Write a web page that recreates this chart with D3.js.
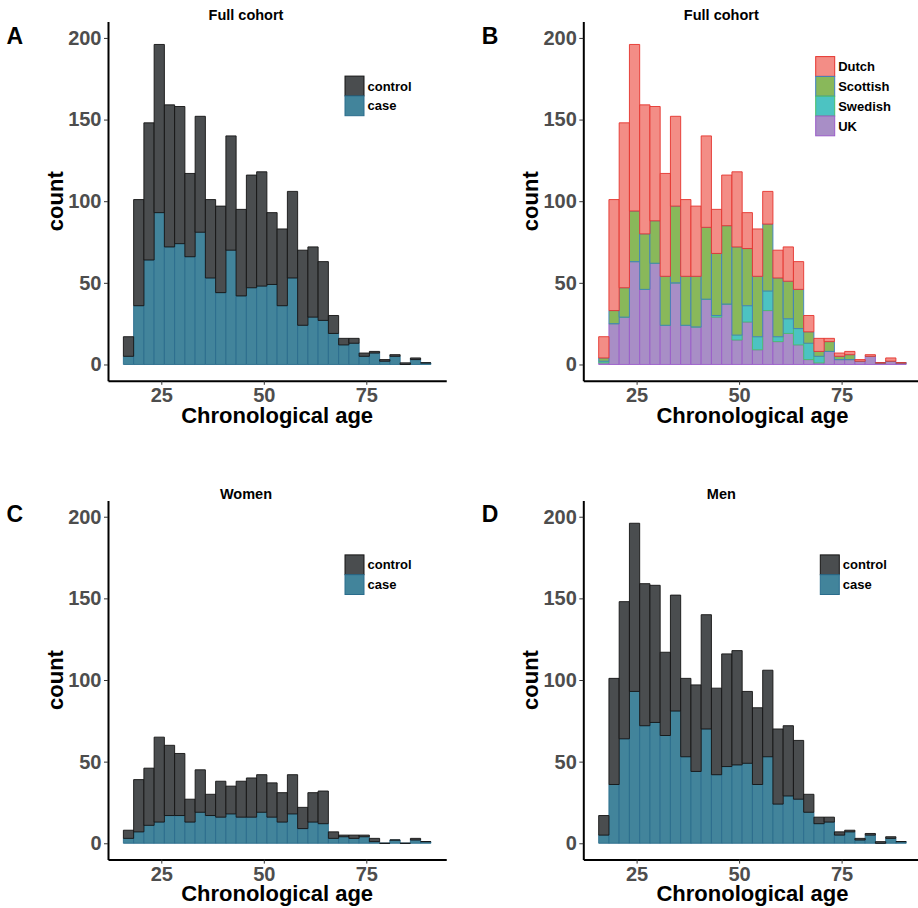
<!DOCTYPE html>
<html>
<head>
<meta charset="utf-8">
<script src="https://cdn.jsdelivr.net/npm/d3@7/dist/d3.min.js"></script>
<style>
  html, body { margin: 0; padding: 0; background: #fff; }
  svg text { font-family: "Liberation Sans", Arial, Helvetica, sans-serif; }
</style>
</head>
<body>
<svg id="chart" width="918" height="908"></svg>
<script>
// Histogram bins: lower edge of each 2.5-year age bin
const binStarts = [15.75, 18.25, 20.75, 23.25, 25.75, 28.25, 30.75, 33.25, 35.75, 38.25,
                   40.75, 43.25, 45.75, 48.25, 50.75, 53.25, 55.75, 58.25, 60.75, 63.25,
                   65.75, 68.25, 70.75, 73.25, 75.75, 78.25, 80.75, 83.25, 85.75, 88.25];
const binWidth = 2.5;

// Full cohort, by status
const fullCase    = [5, 36, 64, 93, 72, 74, 66, 81, 53, 44, 70, 42, 47, 48, 49, 36, 53, 24, 29, 27, 19, 12, 13, 5, 7, 2, 5, 0, 3, 1];
const fullControl = [12, 65, 84, 103, 87, 84, 51, 71, 48, 53, 70, 53, 69, 70, 44, 47, 53, 46, 43, 36, 11, 4, 3, 2, 1, 1, 1, 1, 1, 0];

// Full cohort, by study
const ukCounts       = [1, 25, 29, 63, 46, 62, 24, 50, 24, 23, 40, 29, 37, 15, 26, 9, 33, 14, 19, 12, 3, 1, 8, 3, 3, 2, 5, 1, 2, 1];
const swedishCounts  = [1, 0, 0, 0, 0, 0, 0, 0, 0, 0, 0, 1, 0, 3, 10, 8, 12, 3, 9, 10, 10, 4, 0, 0, 0, 0, 0, 0, 0, 0];
const scottishCounts = [2, 8, 18, 31, 34, 26, 30, 47, 30, 31, 44, 38, 48, 54, 35, 37, 41, 36, 23, 24, 7, 3, 6, 2, 3, 0, 0, 0, 0, 0];
const dutchCounts    = [13, 68, 101, 102, 79, 70, 63, 55, 47, 43, 56, 27, 31, 46, 22, 29, 20, 17, 21, 17, 10, 8, 2, 2, 2, 1, 1, 0, 2, 0];

// Women, by status
const womenCase    = [3, 7, 11, 13, 17, 17, 13, 19, 17, 16, 18, 16, 16, 19, 16, 13, 18, 9, 13, 12, 3, 4, 3, 4, 1, 0, 2, 0, 2, 1];
const womenControl = [5, 32, 35, 52, 43, 38, 14, 26, 13, 22, 17, 22, 24, 23, 21, 18, 24, 13, 18, 20, 4, 1, 2, 1, 2, 0, 0, 0, 1, 0];

// Men, by status
const menCase    = [5, 36, 64, 93, 72, 74, 66, 81, 53, 44, 70, 42, 47, 48, 49, 36, 53, 24, 29, 27, 19, 12, 13, 5, 7, 2, 5, 0, 3, 1];
const menControl = [12, 65, 84, 103, 87, 84, 51, 71, 48, 53, 70, 53, 69, 70, 44, 47, 53, 46, 43, 36, 11, 4, 3, 2, 1, 1, 1, 1, 1, 0];

const xTicks = [25, 50, 75];
const yTicks = [0, 50, 100, 150, 200];

const statusKeys = ["case", "control"];           // bottom to top
const statusLegend = ["control", "case"];
const statusFill = { control: "#4a4d4f", case: "#42849b" };
const statusStroke = { control: "#141414", case: "#2a6c8c" };

const studyKeys = ["UK", "Swedish", "Scottish", "Dutch"]; // bottom to top
const studyLegend = ["Dutch", "Scottish", "Swedish", "UK"];
const studyFill = { Dutch: "#f38d86", Scottish: "#89b85a", Swedish: "#4cc3c2", UK: "#a88ec6" };
const studyStroke = { Dutch: "#e5332d", Scottish: "#3f7fc0", Swedish: "#49bd6a", UK: "#9a5cc8" };

function statusRows(caseArr, controlArr) {
  return binStarts.map((b, i) => ({ x0: b, x1: b + binWidth, case: caseArr[i], control: controlArr[i] }));
}
function studyRows() {
  return binStarts.map((b, i) => ({
    x0: b, x1: b + binWidth,
    UK: ukCounts[i], Swedish: swedishCounts[i], Scottish: scottishCounts[i], Dutch: dutchCounts[i]
  }));
}

const panels = [
  { letter: "A", title: "Full cohort", dx: 0,     dy: 0,     rows: statusRows(fullCase, fullControl), keys: statusKeys, legend: statusLegend, fill: statusFill, stroke: statusStroke, lx: 237, ly: 54.5 },
  { letter: "B", title: "Full cohort", dx: 475.3, dy: 0,     rows: studyRows(), keys: studyKeys, legend: studyLegend, fill: studyFill, stroke: studyStroke, lx: 232.4, ly: 35 },
  { letter: "C", title: "Women",       dx: 0,     dy: 478.8, rows: statusRows(womenCase, womenControl), keys: statusKeys, legend: statusLegend, fill: statusFill, stroke: statusStroke, lx: 237, ly: 54.5 },
  { letter: "D", title: "Men",         dx: 475.3, dy: 478.8, rows: statusRows(menCase, menControl), keys: statusKeys, legend: statusLegend, fill: statusFill, stroke: statusStroke, lx: 237, ly: 54.5 }
];

const svg = d3.select("#chart");
svg.append("rect").attr("width", 918).attr("height", 908).attr("fill", "#fff");

// Shared panel geometry (relative to each panel group)
const plotLeft = 108, plotRight = 446.25, plotTop = 21.6, plotBottom = 380.8;
const x = d3.scaleLinear().domain([12, 94.5]).range([plotLeft, plotRight]);
const y = d3.scaleLinear().domain([-10, 210]).range([plotBottom, plotTop]);

// Bars are drawn as closed paths so that empty bins still show their outline
function barPath(d) {
  const xa = x(d.data.x0), xb = x(d.data.x1), ya = y(d[1]), yb = y(d[0]);
  return `M${xa},${ya}H${xb}V${yb}H${xa}Z`;
}

panels.forEach(p => {
  const g = svg.append("g").attr("transform", `translate(${p.dx},${p.dy})`);

  // panel letter and title
  g.append("text").attr("x", 6.5).attr("y", 43.5)
    .attr("font-size", 23).attr("font-weight", "bold").attr("fill", "#000").text(p.letter);
  g.append("text").attr("x", 246).attr("y", 20).attr("text-anchor", "middle")
    .attr("font-size", 14.5).attr("font-weight", "bold").attr("fill", "#000").text(p.title);

  // stacked histogram bars
  const series = d3.stack().keys(p.keys)(p.rows);
  series.forEach(s => {
    g.append("g").selectAll("path").data(s).join("path")
      .attr("d", barPath)
      .attr("fill", p.fill[s.key])
      .attr("stroke", p.stroke[s.key])
      .attr("stroke-width", 0.9);
  });

  // axes
  const yAxis = g.append("g").attr("transform", `translate(${plotLeft},0)`)
    .call(d3.axisLeft(y).tickValues(yTicks).tickSize(4).tickSizeOuter(0).tickPadding(2.5));
  const xAxis = g.append("g").attr("transform", `translate(0,${plotBottom})`)
    .call(d3.axisBottom(x).tickValues(xTicks).tickSize(4).tickSizeOuter(0).tickPadding(3));
  [yAxis, xAxis].forEach(ax => {
    ax.select(".domain").attr("stroke", "#000").attr("stroke-width", 2);
    ax.selectAll(".tick line").attr("stroke", "#333").attr("stroke-width", 1);
    ax.selectAll(".tick text").attr("fill", "#4d4d4d").attr("font-size", 20)
      .attr("font-weight", "bold").attr("font-family", "Liberation Sans, Arial, sans-serif");
  });

  // axis titles
  g.append("text").attr("x", (plotLeft + plotRight) / 2).attr("y", 422.5)
    .attr("text-anchor", "middle").attr("font-size", 22).attr("font-weight", "bold")
    .attr("fill", "#000").text("Chronological age");
  g.append("text").attr("transform", `translate(62.5,${(plotTop + plotBottom) / 2}) rotate(-90)`)
    .attr("text-anchor", "middle").attr("font-size", 22).attr("font-weight", "bold")
    .attr("fill", "#000").text("count");

  // legend
  const lg = g.append("g").attr("transform", `translate(${plotLeft + p.lx},${plotTop + p.ly})`);
  p.legend.forEach((k, i) => {
    lg.append("rect").attr("x", 0).attr("y", i * 19.8).attr("width", 19).attr("height", 19.8)
      .attr("fill", p.fill[k]).attr("stroke", p.stroke[k]).attr("stroke-width", 1);
    lg.append("text").attr("x", 22.5).attr("y", i * 19.8 + 10).attr("dy", "0.35em")
      .attr("font-size", 13).attr("font-weight", "bold").attr("fill", "#000").text(k);
  });
});
</script>
</body>
</html>
